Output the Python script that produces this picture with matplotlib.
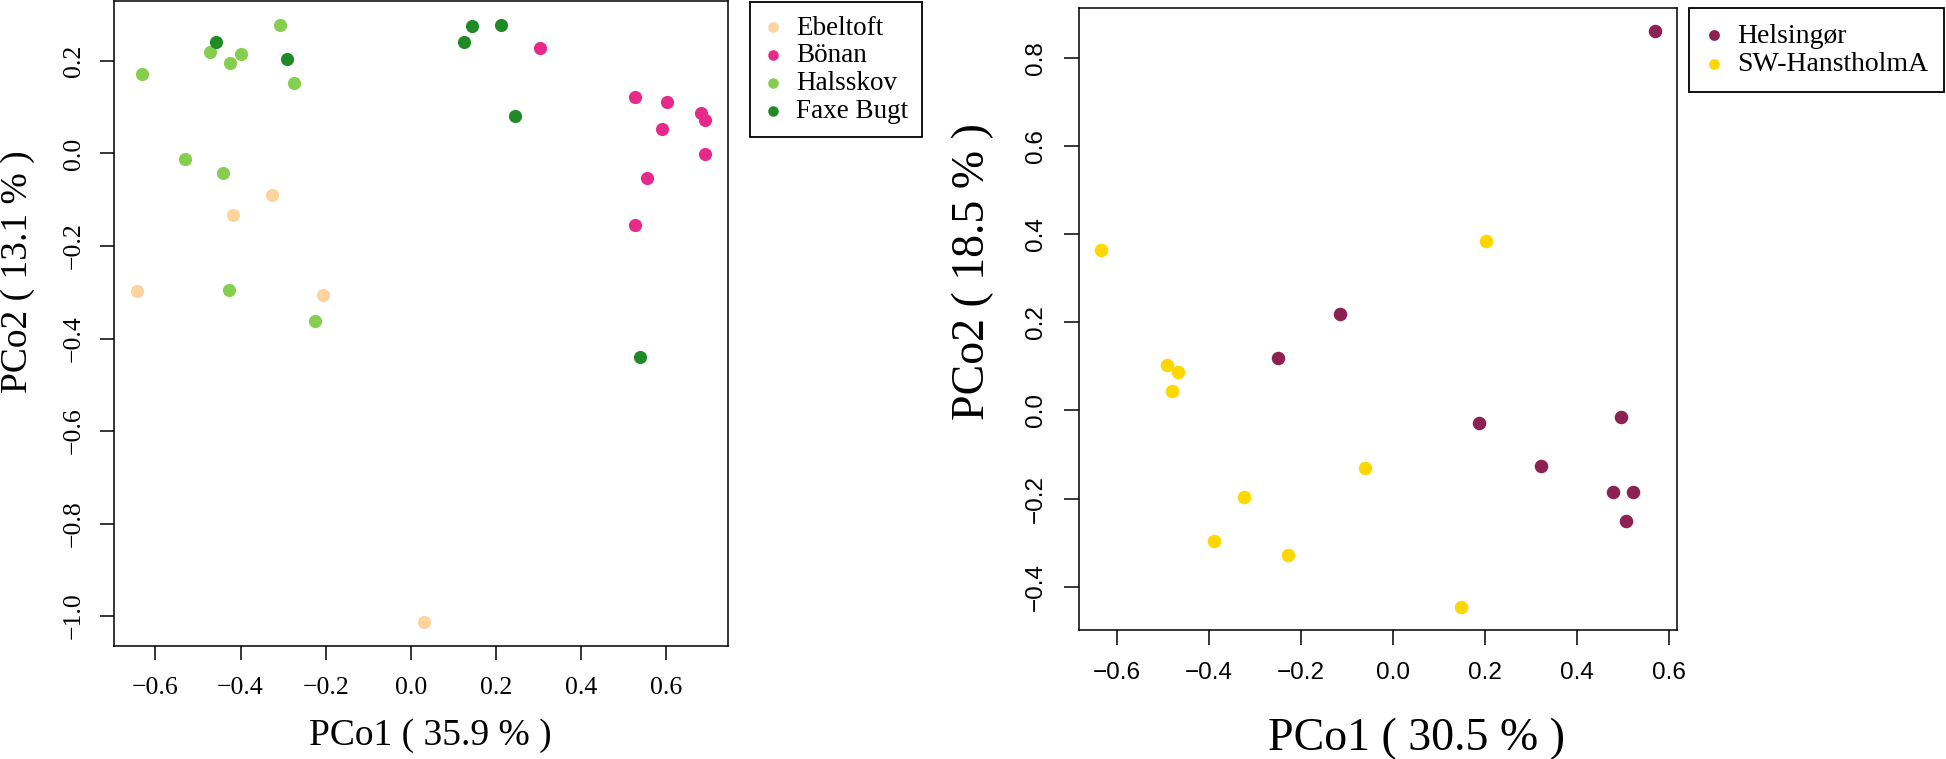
import matplotlib
matplotlib.use("Agg")
import matplotlib.pyplot as plt

plt.rcParams['font.family'] = ['Liberation Serif', 'DejaVu Serif']

# ---- left panel data (PCo1 35.9 %, PCo2 13.1 %) ----
ebeltoft_x = [-0.644, -0.418, -0.326, -0.207, 0.031]
ebeltoft_y = [-0.298, -0.132, -0.089, -0.305, -1.013]
bonan_x = [0.303, 0.526, 0.601, 0.683, 0.692, 0.591, 0.692, 0.556, 0.527]
bonan_y = [0.229, 0.123, 0.111, 0.088, 0.073, 0.052, -0.001, -0.052, -0.155]
halsskov_x = [-0.631, -0.471, -0.425, -0.400, -0.308, -0.275, -0.531, -0.441, -0.427, -0.224]
halsskov_y = [0.172, 0.219, 0.196, 0.214, 0.278, 0.152, -0.012, -0.042, -0.295, -0.362]
faxe_x = [-0.457, -0.290, 0.124, 0.145, 0.212, 0.245, 0.538]
faxe_y = [0.242, 0.204, 0.240, 0.275, 0.277, 0.080, -0.440]

# ---- right panel data (PCo1 30.5 %, PCo2 18.5 %) ----
helsingor_x = [0.569, -0.115, -0.250, 0.186, 0.495, 0.322, 0.477, 0.522, 0.507]
helsingor_y = [0.861, 0.219, 0.119, -0.028, -0.014, -0.126, -0.186, -0.185, -0.250]
hanstholm_x = [-0.634, 0.202, -0.491, -0.468, -0.480, -0.061, -0.324, -0.389, -0.227, 0.148]
hanstholm_y = [0.363, 0.385, 0.104, 0.088, 0.043, -0.130, -0.196, -0.296, -0.328, -0.446]

left_xticks = [-0.6, -0.4, -0.2, 0.0, 0.2, 0.4, 0.6]
left_yticks = [-1.0, -0.8, -0.6, -0.4, -0.2, 0.0, 0.2]
right_xticks = [-0.6, -0.4, -0.2, 0.0, 0.2, 0.4, 0.6]
right_yticks = [-0.4, -0.2, 0.0, 0.2, 0.4, 0.6, 0.8]


def fmt(v):
    return f"{v:.1f}".replace("-", "\u2212")


W, H = 1946, 759
fig = plt.figure(figsize=(W / 100, H / 100), dpi=100)

# left panel
ax1 = fig.add_axes([114 / W, 1 - 646 / H, 614 / W, 645 / H])
ax1.scatter(ebeltoft_x, ebeltoft_y, s=90, color="#FDD49E", label="Ebeltoft", linewidths=0)
ax1.scatter(bonan_x, bonan_y, s=90, color="#E7298A", label="Bönan", linewidths=0)
ax1.scatter(halsskov_x, halsskov_y, s=90, color="#86CE4F", label="Halsskov", linewidths=0)
ax1.scatter(faxe_x, faxe_y, s=90, color="#208B26", label="Faxe Bugt", linewidths=0)
ax1.margins(0.04)
ax1.set_xticks(left_xticks, [fmt(v) for v in left_xticks])
ax1.set_yticks(left_yticks, [fmt(v) for v in left_yticks])
ax1.tick_params(direction="out", length=10, width=1.1, labelsize=18.5, pad=12)
ax1.tick_params(axis="y", labelrotation=90, pad=11)
for lab in ax1.get_yticklabels():
    lab.set_va("center")
ax1.set_xlabel("PCo1 ( 35.9 % )", fontsize=27)
ax1.set_ylabel("PCo2 ( 13.1 % )", fontsize=27)
ax1.xaxis.set_label_coords(0.515, -0.112)
ax1.yaxis.set_label_coords(-0.128, 0.58)
for sp in ax1.spines.values():
    sp.set_linewidth(1.1)
leg1 = ax1.legend(loc="upper left", bbox_to_anchor=(750 / W, 1 - 2 / H),
                  bbox_transform=fig.transFigure, borderaxespad=0,
                  fontsize=19.5, labelspacing=0.1, borderpad=0.5,
                  handlelength=0.7, handletextpad=0.5, scatterpoints=1,
                  markerscale=0.8, fancybox=False, framealpha=1,
                  edgecolor="black")
leg1.get_frame().set_linewidth(1.3)

# right panel
ax2 = fig.add_axes([1079 / W, 1 - 630 / H, 598 / W, 622 / H])
ax2.scatter(helsingor_x, helsingor_y, s=95, color="#8B2252", label="Helsingør", linewidths=0)
ax2.scatter(hanstholm_x, hanstholm_y, s=95, color="#FFD700", label="SW-HanstholmA", linewidths=0)
ax2.margins(0.04)
ax2.set_xticks(right_xticks, [fmt(v) for v in right_xticks])
ax2.set_yticks(right_yticks, [fmt(v) for v in right_yticks])
ax2.tick_params(direction="out", length=11, width=1.1, labelsize=17.5, pad=12)
ax2.tick_params(axis="y", labelrotation=90)
for lab in ax2.get_xticklabels() + ax2.get_yticklabels():
    lab.set_family("Liberation Sans")
for lab in ax2.get_yticklabels():
    lab.set_va("center")
ax2.set_xlabel("PCo1 ( 30.5 % )", fontsize=33)
ax2.set_ylabel("PCo2 ( 18.5 % )", fontsize=33)
ax2.xaxis.set_label_coords(0.565, -0.14)
ax2.yaxis.set_label_coords(-0.142, 0.576)
for sp in ax2.spines.values():
    sp.set_linewidth(1.1)
leg2 = ax2.legend(loc="upper right", bbox_to_anchor=(1944 / W, 1 - 8 / H),
                  bbox_transform=fig.transFigure, borderaxespad=0,
                  fontsize=20, labelspacing=0.1, borderpad=0.55,
                  handlelength=0.7, handletextpad=0.5, scatterpoints=1,
                  markerscale=0.8, fancybox=False, framealpha=1,
                  edgecolor="black")
leg2.get_frame().set_linewidth(1.3)

fig.savefig("out.png", dpi=100)
